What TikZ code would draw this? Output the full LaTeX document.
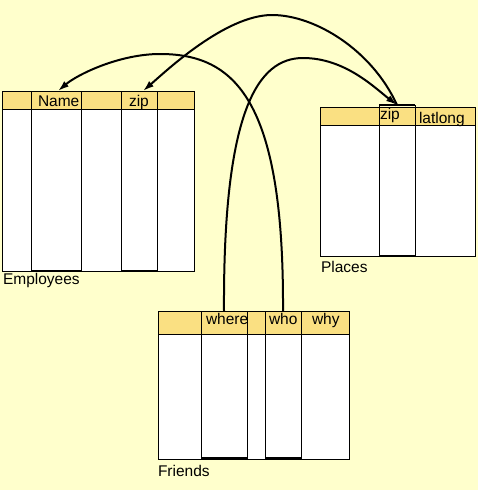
\documentclass[tikz,border=0pt]{standalone}
\usepackage{fontspec}
\setmainfont{Liberation Sans}
\usetikzlibrary{arrows.meta}
\definecolor{bg}{RGB}{255,255,204}
\definecolor{hdr}{RGB}{250,224,130}
\begin{document}
\begin{tikzpicture}[x=1pt,y=-1pt,
  tbl/.style={draw=black,fill=white,line width=1pt,rectangle,inner sep=0pt,outer sep=0pt,anchor=north west},
  hdrbox/.style={draw=black,fill=hdr,line width=1pt,rectangle,inner sep=0pt,outer sep=0pt,anchor=north west},
  colbox/.style={draw=black,line width=1pt,rectangle,inner sep=0pt,outer sep=0pt,anchor=north west},
  thickbot/.style={line width=2pt},
  lbl/.style={inner sep=0pt,outer sep=0pt,anchor=base west,font=\fontsize{15.5}{16}\selectfont},
  arc/.style={line width=2pt,-{Latex[length=11pt,width=7pt]}}]
\useasboundingbox (0,0) rectangle (478,490);
\fill[bg] (0,0) rectangle (478,490);

% Employees
\node[tbl,minimum width=192pt,minimum height=180pt] (emp) at (2,91) {};
\node[hdrbox,minimum width=192pt,minimum height=18pt] (emphdr) at (2,91) {};
\node[colbox,minimum width=29pt,minimum height=180pt] (e1) at (2,91) {};
\node[colbox,minimum width=50pt,minimum height=180pt] (ename) at (31,91) {};
\node[colbox,minimum width=40pt,minimum height=180pt] (e3) at (81,91) {};
\node[colbox,minimum width=36pt,minimum height=180pt] (ezip) at (121,91) {};
\node[colbox,minimum width=37pt,minimum height=180pt] (e5) at (157,91) {};
\draw[thickbot] ([yshift=0.5pt]ename.south west) -- ([yshift=0.5pt]ename.south east);
\draw[thickbot] ([yshift=0.5pt]ezip.south west) -- ([yshift=0.5pt]ezip.south east);
\node[lbl] (tname) at (38,106) {Name};
\node[lbl] (tezip) at (129,106) {zip};
\node[lbl] (temp) at (3,284) {Employees};

% Places
\node[tbl,minimum width=155pt,minimum height=149pt] (pl) at (320,107) {};
\node[hdrbox,minimum width=155pt,minimum height=18pt] (plhdr) at (320,107) {};
\node[colbox,minimum width=59pt,minimum height=149pt] (p1) at (320,107) {};
\node[colbox,minimum width=36pt,minimum height=151pt] (pzip) at (379,105) {};
\node[colbox,minimum width=60pt,minimum height=149pt] (p3) at (415,107) {};
\draw[thickbot] ([yshift=0.5pt]pzip.south west) -- ([yshift=0.5pt]pzip.south east);
\draw[line width=1.5pt] (pzip.north west) -- (pzip.north east);
\node[lbl] (tpzip) at (380,119) {zip};
\node[lbl] (tlat) at (419,123) {latlong};
\node[lbl] (tpl) at (321,272) {Places};

% Friends
\node[tbl,minimum width=191pt,minimum height=148pt] (fr) at (158,311) {};
\node[hdrbox,minimum width=191pt,minimum height=23pt] (frhdr) at (158,311) {};
\node[colbox,minimum width=43pt,minimum height=148pt] (f1) at (158,311) {};
\node[colbox,minimum width=46pt,minimum height=147pt] (fwhere) at (201,311) {};
\node[colbox,minimum width=18pt,minimum height=148pt] (f3) at (247,311) {};
\node[colbox,minimum width=36pt,minimum height=147pt] (fwho) at (265,311) {};
\node[colbox,minimum width=48pt,minimum height=148pt] (f5) at (301,311) {};
\draw[thickbot] (fwhere.south west) -- (fwhere.south east);
\draw[thickbot] (fwho.south west) -- (fwho.south east);
\node[lbl] (twhere) at (206,324) {where};
\node[lbl] (twho) at (269,324) {who};
\node[lbl] (twhy) at (312,324) {why};
\node[lbl] (tfr) at (158,476) {Friends};

% connectors
\draw[arc] (fwho.north) .. controls (284,100) and (235,54) .. (160,54)
  .. controls (120,54) and (78,74) .. ([xshift=2pt]ename.north);
\draw[arc] (fwhere.north) .. controls (223,110) and (258,58) .. (303,58)
  .. controls (345,58) and (375,88) .. (pzip.north);
\draw[arc] (pzip.north) .. controls (372,50) and (315,15) .. (272,15)
  .. controls (225,15) and (165,72) .. ([xshift=4pt]ezip.north);
\end{tikzpicture}
\end{document}
